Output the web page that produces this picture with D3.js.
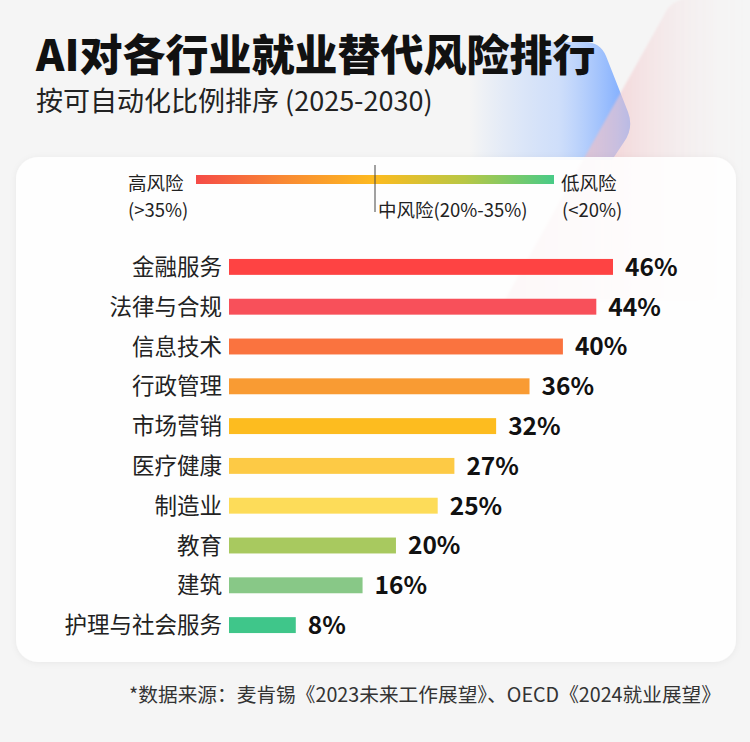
<!DOCTYPE html>
<html><head><meta charset="utf-8">
<script src="https://cdn.jsdelivr.net/npm/d3@7"></script>
<style>
html,body{margin:0;padding:0;background:#f5f5f5;}
svg{display:block;}
text{font-family:"Noto Sans CJK SC","Noto Sans",sans-serif;}
</style></head><body>
<svg id="chart" width="750" height="742"></svg>
<script>
const categories = ["金融服务","法律与合规","信息技术","行政管理","市场营销","医疗健康","制造业","教育","建筑","护理与社会服务"];
const values = [46,44,40,36,32,27,25,20,16,8];
const barColors = ["#fe4343","#f8505a","#fa733f","#f99b33","#fdbc1f","#fdca45","#fddc59","#a8c95f","#88c887","#3fc68a"];
const title = "AI对各行业就业替代风险排行";
const subtitle = "按可自动化比例排序 (2025-2030)";
const legendLabels = [["高风险","(>35%)"],["中风险(20%-35%)"],["低风险","(<20%)"]];
const gradientStops = ["#f54b47","#f98a33","#fdbb1f","#b8c745","#48cb87"];
const footnote = "*数据来源：麦肯锡《2023未来工作展望》、OECD《2024就业展望》";

const svg = d3.select("#chart");
const defs = svg.append("defs");

svg.append("rect").attr("width",750).attr("height",742).attr("fill","#f5f5f5");

// decorative shapes
const gBlue = defs.append("linearGradient").attr("id","gBlue").attr("x1",0).attr("x2",1).attr("y1",0).attr("y2",0);
gBlue.append("stop").attr("offset","0%").attr("stop-color","#8fb8ff").attr("stop-opacity",0);
gBlue.append("stop").attr("offset","55%").attr("stop-color","#a9c8ff").attr("stop-opacity",0.5);
gBlue.append("stop").attr("offset","100%").attr("stop-color","#6fa3ff").attr("stop-opacity",0.95);
const gPink = defs.append("linearGradient").attr("id","gPink").attr("x1",0).attr("x2",1).attr("y1",0).attr("y2",0);
gPink.append("stop").attr("offset","0%").attr("stop-color","#eea9b0").attr("stop-opacity",0.8);
gPink.append("stop").attr("offset","45%").attr("stop-color","#f3c6ca").attr("stop-opacity",0.6);
gPink.append("stop").attr("offset","100%").attr("stop-color","#f5f5f5").attr("stop-opacity",0);
const blur = defs.append("filter").attr("id","soft").attr("x","-20%").attr("y","-20%").attr("width","140%").attr("height","140%");
blur.append("feGaussianBlur").attr("stdDeviation",1.2);

svg.append("path")
  .attr("d","M470,42 L585,42 Q600,42 606,56 L628,112 Q634,128 624,142 L612,160 L470,160 Z")
  .attr("fill","url(#gBlue)");
svg.append("path")
  .attr("d","M668,8 Q680,-4 700,-4 L750,-4 L750,300 L505,300 Z")
  .attr("fill","url(#gPink)").attr("filter","url(#soft)");

// card
const shadow = defs.append("filter").attr("id","shadow").attr("x","-5%").attr("y","-5%").attr("width","110%").attr("height","110%");
shadow.append("feDropShadow").attr("dx",0).attr("dy",1).attr("stdDeviation",3).attr("flood-color","#000").attr("flood-opacity",0.06);
svg.append("rect").attr("x",16).attr("y",157).attr("width",720).attr("height",505).attr("rx",22)
  .attr("fill","#ffffff").attr("fill-opacity",0.9).attr("filter","url(#shadow)");

// titles
svg.append("text").attr("x",36).attr("y",71).attr("font-size",43).attr("font-weight",900).attr("fill","#111").text(title);
svg.append("text").attr("x",36).attr("y",111).attr("font-size",27).attr("fill","#222").text(subtitle);

// legend
const lg = defs.append("linearGradient").attr("id","legendGrad");
gradientStops.forEach((c,i)=>lg.append("stop").attr("offset",(i/(gradientStops.length-1)*100)+"%").attr("stop-color",c));
const legX = d3.scaleLinear().domain([0,1]).range([196,554]);
svg.append("rect").attr("x",legX(0)).attr("y",175).attr("width",legX(1)-legX(0)).attr("height",9).attr("fill","url(#legendGrad)");
svg.append("line").attr("x1",375).attr("x2",375).attr("y1",165).attr("y2",212).attr("stroke","#444").attr("stroke-width",1);
const lf = 18.5;
svg.append("text").attr("x",128).attr("y",190).attr("font-size",lf).attr("fill","#222").text(legendLabels[0][0]);
svg.append("text").attr("x",128).attr("y",217).attr("font-size",lf).attr("fill","#222").text(legendLabels[0][1]);
svg.append("text").attr("x",378).attr("y",217).attr("font-size",lf).attr("fill","#222").text(legendLabels[1][0]);
svg.append("text").attr("x",561).attr("y",190).attr("font-size",lf).attr("fill","#222").text(legendLabels[2][0]);
svg.append("text").attr("x",562).attr("y",217).attr("font-size",lf).attr("fill","#222").text(legendLabels[2][1]);

// bars
const x = d3.scaleLinear().domain([0,46]).range([229,613]);
const y = d3.scaleBand().domain(categories).range([247,645]).paddingInner(0.6).paddingOuter(0.3);
const g = svg.append("g");
g.selectAll("rect.bar").data(categories).join("rect").attr("class","bar")
  .attr("x",x(0)).attr("y",d=>y(d)).attr("height",y.bandwidth())
  .attr("width",(d,i)=>x(values[i])-x(0)).attr("fill",(d,i)=>barColors[i]);
g.selectAll("text.cat").data(categories).join("text").attr("class","cat")
  .attr("x",222).attr("y",d=>y(d)+y.bandwidth()/2).attr("dy","0.36em")
  .attr("text-anchor","end").attr("font-size",22.5).attr("fill","#222").text(d=>d);
g.selectAll("text.val").data(categories).join("text").attr("class","val")
  .attr("x",(d,i)=>x(values[i])+12).attr("y",d=>y(d)+y.bandwidth()/2).attr("dy","0.36em")
  .attr("font-size",24.5).attr("font-weight",700).attr("fill","#111").text((d,i)=>values[i]+"%");

// footnote
svg.append("text").attr("x",721).attr("y",702).attr("text-anchor","end").attr("font-size",19.7).attr("fill","#333").text(footnote);
</script>
</body></html>
